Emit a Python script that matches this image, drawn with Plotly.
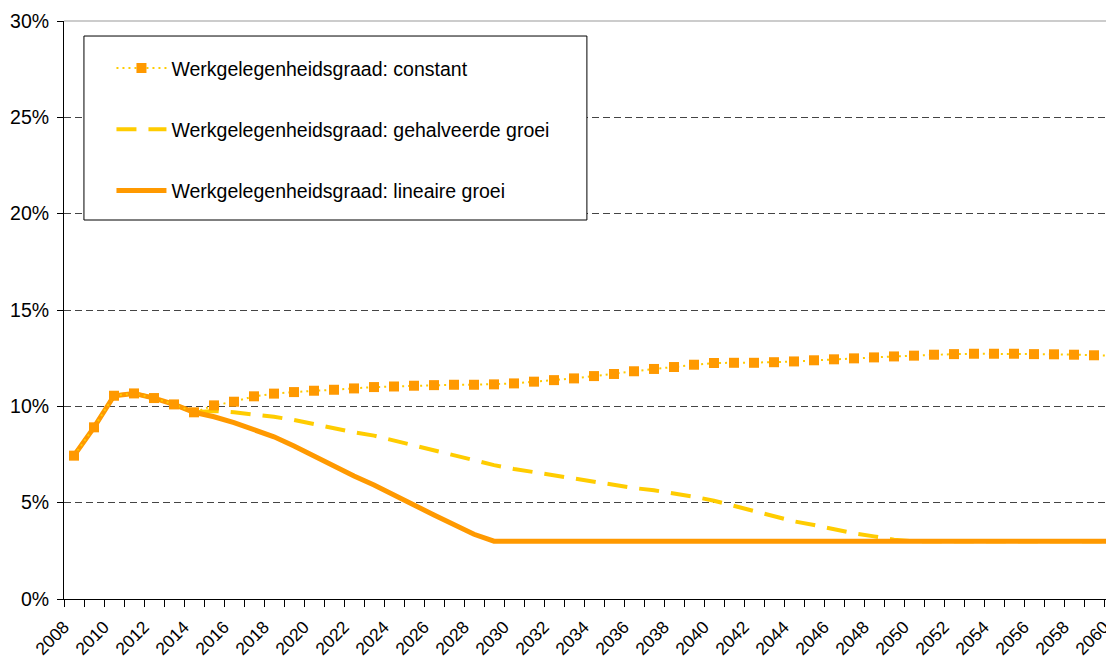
import plotly.graph_objects as go

years = list(range(2008, 2061))

historical = [7.44, 8.91, 10.55, 10.67, 10.43, 10.10, 9.69]  # 2008-2014

constant_proj = [10.05, 10.24, 10.52, 10.66, 10.74, 10.81, 10.86, 10.93, 11.00, 11.03,
                 11.07, 11.10, 11.12, 11.12, 11.14, 11.19, 11.28, 11.36, 11.45, 11.57,
                 11.68, 11.82, 11.94, 12.04, 12.16, 12.25, 12.26, 12.26, 12.29, 12.33,
                 12.39, 12.44, 12.49, 12.54, 12.59, 12.63, 12.68, 12.71, 12.73, 12.73,
                 12.73, 12.71, 12.70, 12.68, 12.65, 12.63]  # 2015-2060

halved_proj = [9.76, 9.69, 9.58, 9.46, 9.29, 9.07, 8.86, 8.65, 8.48, 8.22,
               7.94, 7.70, 7.42, 7.18, 6.95, 6.75, 6.58, 6.40, 6.23, 6.05,
               5.92, 5.76, 5.64, 5.49, 5.31, 5.10, 4.84, 4.60, 4.31, 4.03,
               3.84, 3.62, 3.41, 3.25, 3.08] + [3.0] * 11  # 2015-2060

linear_proj = [9.46, 9.15, 8.81, 8.42, 7.94, 7.42, 6.87, 6.38, 5.92, 5.43,
               4.88, 4.36, 3.84, 3.36] + [3.0] * 32  # 2015-2060

constant = historical + constant_proj
halved = historical + halved_proj
linear = historical + linear_proj

names = ["Werkgelegenheidsgraad: constant",
         "Werkgelegenheidsgraad: gehalveerde groei",
         "Werkgelegenheidsgraad: lineaire groei"]

y_ticks = [0, 5, 10, 15, 20, 25, 30]
y_labels = ["0%", "5%", "10%", "15%", "20%", "25%", "30%"]

# category boundaries carry tick marks; every other boundary carries a year label
x_tickvals = [y - 0.5 for y in years]
x_ticktext = [str(y) if y % 2 == 0 else "" for y in years]

FONT = "Arial, 'Liberation Sans', sans-serif"
FS = 19.5
FS_X = 17.5
ORANGE = "#FF9900"
YELLOW = "#FFCC00"

fig = go.Figure()

fig.add_trace(go.Scatter(
    x=years, y=halved, mode="lines", name=names[1],
    line=dict(color=YELLOW, width=4, dash="20px,12px"),
    legendgroup="b", legendrank=2,
))
fig.add_trace(go.Scatter(
    x=years, y=linear, mode="lines", name=names[2],
    line=dict(color=ORANGE, width=5),
    legendgroup="c", legendrank=3,
))
fig.add_trace(go.Scatter(
    x=years, y=constant, mode="lines+markers", name=names[0],
    line=dict(color=YELLOW, width=2, dash="2px,4px"),
    marker=dict(symbol="square", size=10, color=ORANGE, line=dict(width=0)),
    legendgroup="a", legendrank=1,
))

# the page body adds an 8px offset, so the figure is 8px smaller and margins 8px less
fig.update_layout(
    width=1106, height=656,
    margin=dict(l=56, r=0, t=13, b=65, autoexpand=False),
    paper_bgcolor="white", plot_bgcolor="white",
    font=dict(family=FONT, size=FS, color="black"),
    showlegend=True,
    legend=dict(
        x=0.0452, y=0.952, xanchor="left", yanchor="top",
        bgcolor="rgba(0,0,0,0)", borderwidth=0,
        itemwidth=50, tracegroupgap=33,
        font=dict(family=FONT, size=FS, color="black"),
    ),
    shapes=[
        dict(type="rect", xref="paper", yref="paper",
             x0=0.019, x1=0.498, y0=0.6557, y1=0.974,
             line=dict(color="black", width=1), fillcolor="white", layer="above"),
        dict(type="line", xref="paper", yref="paper",
             x0=0, x1=1, y0=1, y1=1,
             line=dict(color="#999999", width=1), layer="above"),
    ],
)

fig.update_xaxes(
    range=[2007.5, 2060.0], automargin=False,
    tickmode="array", tickvals=x_tickvals, ticktext=x_ticktext,
    tickangle=-45, ticks="outside", ticklen=7, tickcolor="black", tickwidth=1,
    ticklabelstandoff=3,
    showline=True, linecolor="black", linewidth=1,
    showgrid=False, zeroline=False,
    tickfont=dict(family=FONT, size=FS_X, color="black"),
)
fig.update_yaxes(
    range=[0, 30], automargin=False,
    tickmode="array", tickvals=y_ticks, ticktext=y_labels,
    ticks="outside", ticklen=6, tickcolor="black", tickwidth=1,
    ticklabelstandoff=4,
    showline=True, linecolor="black", linewidth=1,
    showgrid=True, gridcolor="#444444", gridwidth=1, griddash="7px,4px",
    zeroline=False,
    tickfont=dict(family=FONT, size=FS, color="black"),
)

fig.write_html("out.html")
